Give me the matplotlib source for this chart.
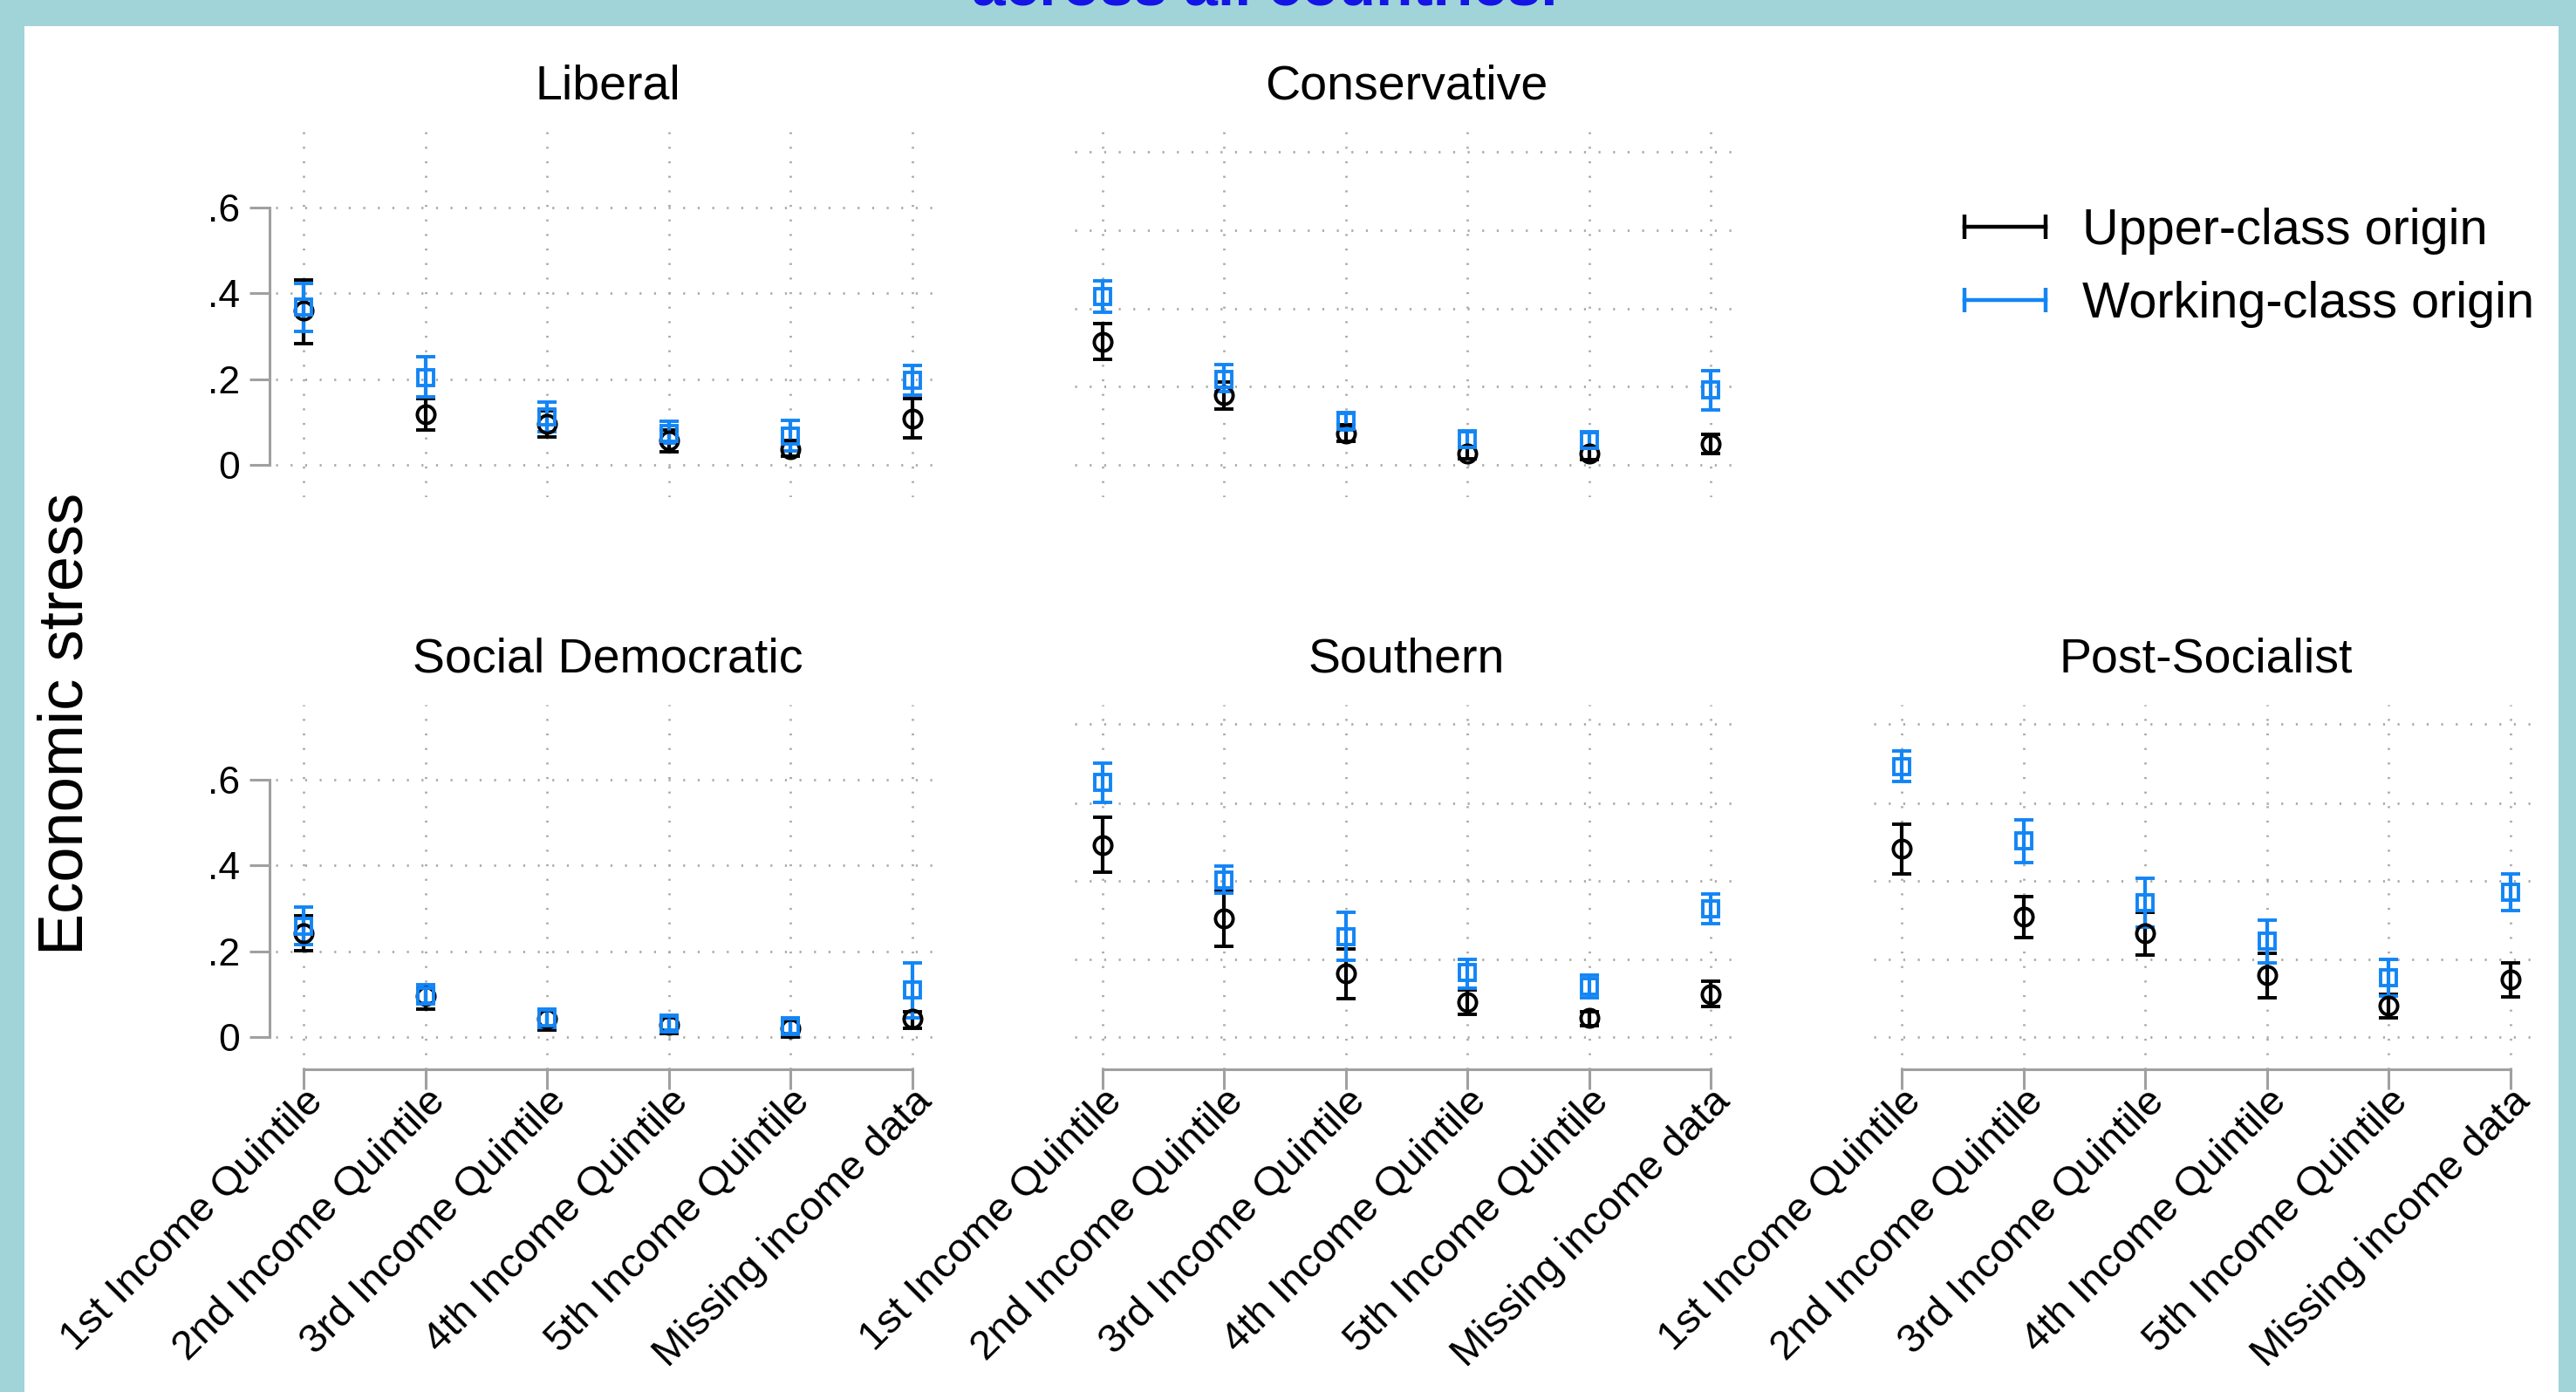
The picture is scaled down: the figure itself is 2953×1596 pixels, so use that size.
import matplotlib
matplotlib.use('Agg')
import matplotlib.pyplot as plt
from matplotlib.patches import Rectangle
from matplotlib.lines import Line2D

plt.rcParams['font.family'] = ['Liberation Sans', 'DejaVu Sans']
plt.rcParams['lines.scale_dashes'] = False

categories = ['1st Income Quintile', '2nd Income Quintile', '3rd Income Quintile',
              '4th Income Quintile', '5th Income Quintile', 'Missing income data']
regimes = ['Liberal', 'Conservative', 'Social Democratic', 'Southern', 'Post-Socialist']
series_labels = ['Upper-class origin', 'Working-class origin']

# one row per regime, one value per income category
upper_mean = [[0.360, 0.118, 0.095, 0.057, 0.037, 0.108],
              [0.286, 0.162, 0.074, 0.026, 0.026, 0.049],
              [0.242, 0.097, 0.043, 0.029, 0.022, 0.043],
              [0.448, 0.276, 0.149, 0.083, 0.045, 0.101],
              [0.439, 0.281, 0.242, 0.144, 0.073, 0.134]]
upper_lo = [[0.283, 0.081, 0.064, 0.030, 0.020, 0.062],
            [0.245, 0.129, 0.055, 0.014, 0.013, 0.026],
            [0.201, 0.066, 0.016, 0.009, 0.001, 0.022],
            [0.384, 0.211, 0.091, 0.054, 0.027, 0.072],
            [0.381, 0.232, 0.191, 0.093, 0.046, 0.095]]
upper_hi = [[0.430, 0.155, 0.126, 0.081, 0.057, 0.154],
            [0.328, 0.192, 0.094, 0.040, 0.040, 0.072],
            [0.284, 0.114, 0.063, 0.046, 0.039, 0.059],
            [0.512, 0.340, 0.205, 0.110, 0.059, 0.130],
            [0.497, 0.328, 0.291, 0.196, 0.101, 0.174]]

working_mean = [[0.367, 0.204, 0.111, 0.074, 0.067, 0.197],
                [0.391, 0.200, 0.101, 0.059, 0.057, 0.174],
                [0.259, 0.097, 0.046, 0.032, 0.026, 0.110],
                [0.593, 0.367, 0.235, 0.151, 0.118, 0.299],
                [0.630, 0.458, 0.313, 0.225, 0.139, 0.338]]
working_lo = [[0.311, 0.159, 0.077, 0.050, 0.033, 0.163],
              [0.355, 0.170, 0.081, 0.040, 0.039, 0.127],
              [0.216, 0.080, 0.024, 0.016, 0.009, 0.046],
              [0.547, 0.335, 0.180, 0.114, 0.092, 0.264],
              [0.595, 0.407, 0.257, 0.174, 0.097, 0.295]]
working_hi = [[0.422, 0.252, 0.147, 0.101, 0.103, 0.231],
              [0.428, 0.233, 0.121, 0.079, 0.077, 0.220],
              [0.304, 0.122, 0.066, 0.051, 0.045, 0.173],
              [0.639, 0.399, 0.291, 0.182, 0.144, 0.334],
              [0.666, 0.507, 0.370, 0.272, 0.182, 0.380]]

ytick_vals = [0, 0.2, 0.4, 0.6]
ytick_labels = ['0', '.2', '.4', '.6']
# panels without a y axis get their own grid spacing
other_grid = [0, 0.182, 0.364, 0.546, 0.729]

teal = '#A0D4D8'
blue = '#1385F5'
gray = '#A0A0A0'

W, H = 2953, 1596
fig = plt.figure(figsize=(W / 100, H / 100), dpi=100, facecolor=teal)
fig.patches.append(Rectangle((28 / W, 0), (2933 - 28) / W, 1 - 30 / H,
                             transform=fig.transFigure, facecolor='white',
                             edgecolor='none', zorder=-5))

fig.text(0.491, 1 - 6 / H, 'across all countries.', color='#1414E6', fontsize=50,
         fontweight='bold', ha='center', va='baseline')

lefts = [316 / W, 1231.5 / W, 2148 / W]
bottoms = [1 - 569.9 / H, 1 - 1226.3 / H]
aw, ah = 762 / W, 418.5 / H
pos = [(0, 0), (0, 1), (1, 0), (1, 1), (1, 2)]
x = list(range(1, len(categories) + 1))

for i, name in enumerate(regimes):
    r, c = pos[i]
    ax = fig.add_axes([lefts[c], bottoms[r], aw, ah])
    ax.set_facecolor('none')
    ax.set_xlim(0.77, 6.23)
    ax.set_ylim(-0.075, 0.775)

    for mean, lo, hi, col, mk, ms in [(upper_mean, upper_lo, upper_hi, 'black', 'o', 14.5),
                                       (working_mean, working_lo, working_hi, blue, 's', 12.5)]:
        m = mean[i]
        err = [[m[k] - lo[i][k] for k in range(6)], [hi[i][k] - m[k] for k in range(6)]]
        ax.errorbar(x, m, yerr=err, fmt=mk, mfc='none', mec=col, ms=ms, mew=2.8,
                    ecolor=col, elinewidth=3.0, capsize=8, capthick=3.0, zorder=3)

    ax.set_title(name, fontsize=40, pad=27)
    ax.spines['top'].set_visible(False)
    ax.spines['right'].set_visible(False)

    ax.set_xticks(x)
    if r == 1:
        ax.spines['bottom'].set_bounds(1, 6)
        ax.spines['bottom'].set_color(gray)
        ax.spines['bottom'].set_linewidth(2.2)
        ax.tick_params(axis='x', direction='out', length=16.5, width=2.2, color=gray,
                       pad=-6, labelsize=34)
        ax.set_xticklabels(categories, rotation=45, ha='right', va='top',
                           rotation_mode='anchor', fontsize=34)
    else:
        ax.spines['bottom'].set_visible(False)
        ax.tick_params(axis='x', bottom=False, labelbottom=False)

    if c == 0:
        ax.spines['left'].set_bounds(0, 0.6)
        ax.spines['left'].set_position(('outward', 5))
        ax.spines['left'].set_color(gray)
        ax.spines['left'].set_linewidth(2.2)
        ax.tick_params(axis='y', direction='out', length=16.5, width=2.2, color=gray,
                       pad=8, labelsize=32)
        ax.set_yticks(ytick_vals)
        ax.set_yticklabels(ytick_labels, fontsize=32)
    else:
        ax.set_yticks(other_grid)
        ax.spines['left'].set_visible(False)
        ax.tick_params(axis='y', left=False, labelleft=False)

    ax.grid(True, color='#ABABAB', linestyle=(0, (1.6, 10.4)), linewidth=2.0)
    ax.set_axisbelow(True)

fig.text(76 / W, 1 - 830 / H, 'Economic stress', rotation=90, fontsize=52,
         ha='center', va='center')

handles = [Line2D([], [], color='black', lw=3.2, marker='|', ms=20, mew=3.2),
           Line2D([], [], color=blue, lw=3.2, marker='|', ms=20, mew=3.2)]
fig.legend(handles, series_labels, numpoints=2, loc='upper left',
           bbox_to_anchor=(2235 / W, 1 - 238 / H), frameon=False, fontsize=41.5,
           handlelength=2.2, handletextpad=0.44, labelspacing=0.52,
           borderpad=0, borderaxespad=0)

fig.savefig('out.png', dpi=100, facecolor=teal)
